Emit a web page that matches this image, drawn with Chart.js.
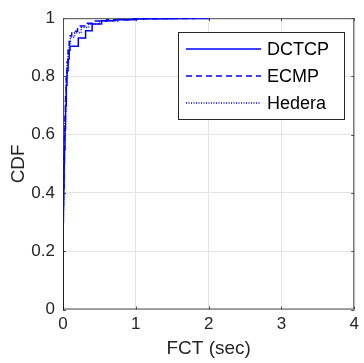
<!DOCTYPE html>
<html>
<head>
<meta charset="utf-8">
<script src="https://cdn.jsdelivr.net/npm/chart.js@4/dist/chart.umd.min.js"></script>
<style>
  body { margin: 0; background: #fff; }
  #wrap { width: 364px; height: 363px; }
</style>
</head>
<body>
<div id="wrap"><canvas id="cdfChart" width="364" height="363"></canvas></div>
<script>
// flow completion time (sec) vs CDF
const seriesNames = ['DCTCP', 'ECMP', 'Hedera'];
const dctcpTime = [0, 0.003, 0.006, 0.01, 0.015, 0.02, 0.027, 0.035, 0.045, 0.055, 0.07, 0.085, 0.096, 0.21, 0.31, 0.40, 0.53, 0.7, 1.0, 1.5, 2.0];
const dctcpCdf  = [0, 0.30, 0.36, 0.42, 0.50, 0.55, 0.62, 0.70, 0.77, 0.82, 0.86, 0.89, 0.904, 0.932, 0.957, 0.98, 0.991, 0.995, 0.998, 0.999, 1];
const ecmpTime  = [0, 0.003, 0.006, 0.01, 0.015, 0.02, 0.027, 0.035, 0.045, 0.055, 0.07, 0.085, 0.1, 0.12, 0.2, 0.3, 0.43, 0.6, 0.9, 1.3, 1.8];
const ecmpCdf   = [0, 0.33, 0.40, 0.47, 0.54, 0.60, 0.67, 0.74, 0.80, 0.85, 0.89, 0.92, 0.94, 0.955, 0.973, 0.983, 0.99, 0.995, 0.998, 0.999, 1];
const hederaTime = [0, 0.003, 0.006, 0.01, 0.015, 0.02, 0.027, 0.035, 0.045, 0.055, 0.07, 0.085, 0.1, 0.16, 0.25, 0.35, 0.5, 0.75, 1.1, 1.6];
const hederaCdf  = [0, 0.32, 0.38, 0.45, 0.52, 0.58, 0.65, 0.72, 0.79, 0.84, 0.88, 0.91, 0.935, 0.95, 0.968, 0.98, 0.99, 0.996, 0.999, 1];
const xTicks = [0, 1, 2, 3, 4];
const yTicks = [0, 0.2, 0.4, 0.6, 0.8, 1];

const FONT = "'Liberation Sans', Arial, sans-serif";
const TEXT = '#262626';
const BLUE = '#0000ff';

const pts = (xs, ys) => xs.map((x, i) => ({x: x, y: ys[i]}));

// box around the axes with inward ticks on all four sides (matlab look), legend on top
const boxPlugin = {
    id: 'box',
    beforeDatasetsDraw(chart) {
        const {ctx, chartArea: a, scales} = chart;
        ctx.save();
        ctx.strokeStyle = '#4d4d4d';
        ctx.lineWidth = 1;
        ctx.setLineDash([]);
        ctx.strokeRect(a.left + 0.5, a.top + 0.5, a.right - a.left - 1, a.bottom - a.top - 1);
        ctx.beginPath();
        xTicks.forEach(v => {
            const x = Math.round(scales.x.getPixelForValue(v)) + 0.5;
            ctx.moveTo(x, a.bottom); ctx.lineTo(x, a.bottom - 3);
            ctx.moveTo(x, a.top); ctx.lineTo(x, a.top + 3);
        });
        yTicks.forEach(v => {
            const y = Math.round(scales.y.getPixelForValue(v)) + 0.5;
            ctx.moveTo(a.left, y); ctx.lineTo(a.left + 3, y);
            ctx.moveTo(a.right, y); ctx.lineTo(a.right - 3, y);
        });
        ctx.stroke();
        ctx.restore();
    },
    afterDraw(chart) {
        const ctx = chart.ctx;
        ctx.save();
        const lx = 178.5, ly = 32.5, lw = 166, lh = 87;
        ctx.fillStyle = '#fff';
        ctx.fillRect(lx, ly, lw, lh);
        ctx.strokeStyle = '#262626';
        ctx.lineWidth = 1;
        ctx.strokeRect(lx, ly, lw, lh);
        ctx.font = '18px ' + FONT;
        ctx.textBaseline = 'middle';
        ctx.textAlign = 'left';
        chart.data.datasets.forEach((ds, i) => {
            const y = 49 + i * 27;
            ctx.strokeStyle = ds.borderColor;
            ctx.lineWidth = ds.borderWidth;
            ctx.setLineDash(ds.borderDash || []);
            ctx.beginPath();
            ctx.moveTo(186, y); ctx.lineTo(261, y);
            ctx.stroke();
            ctx.fillStyle = '#000';
            ctx.fillText(ds.label, 267, y + 1);
        });
        ctx.restore();
    }
};

new Chart(document.getElementById('cdfChart'), {
    type: 'scatter',
    data: {
        datasets: [
            { label: seriesNames[0], data: pts(dctcpTime, dctcpCdf), borderColor: BLUE, borderWidth: 1.5, borderDash: [] },
            { label: seriesNames[1], data: pts(ecmpTime, ecmpCdf), borderColor: BLUE, borderWidth: 1.5, borderDash: [6, 4] },
            { label: seriesNames[2], data: pts(hederaTime, hederaCdf), borderColor: BLUE, borderWidth: 1.5, borderDash: [1, 1.5] }
        ].map(d => Object.assign(d, { showLine: true, stepped: 'before', pointRadius: 0, pointHoverRadius: 0, fill: false }))
    },
    options: {
        responsive: false,
        animation: false,
        layout: { padding: { top: 15, right: 8, bottom: 0, left: 0 } },
        plugins: { legend: { display: false }, tooltip: { enabled: false } },
        scales: {
            x: {
                type: 'linear', min: 0, max: 4,
                afterFit: s => { s.height = 53.5; },
                afterBuildTicks: s => { s.ticks = xTicks.map(v => ({value: v})); },
                ticks: { padding: 5, color: TEXT, font: { family: FONT, size: 17 }, maxRotation: 0, callback: v => String(v) },
                grid: { color: '#e3e3e3', drawTicks: false },
                border: { display: false },
                title: { display: true, text: 'FCT (sec)', color: TEXT, font: { family: FONT, size: 19 }, padding: { top: 0, bottom: 3 } }
            },
            y: {
                type: 'linear', min: 0, max: 1,
                afterFit: s => { s.width = 63; },
                afterBuildTicks: s => { s.ticks = yTicks.map(v => ({value: v})); },
                ticks: { padding: 8, color: TEXT, font: { family: FONT, size: 17 }, callback: v => String(v) },
                grid: { color: '#e3e3e3', drawTicks: false },
                border: { display: false },
                title: { display: true, text: 'CDF', color: TEXT, font: { family: FONT, size: 19 }, padding: { top: 7, bottom: 0 } }
            }
        }
    },
    plugins: [boxPlugin]
});
</script>
</body>
</html>
